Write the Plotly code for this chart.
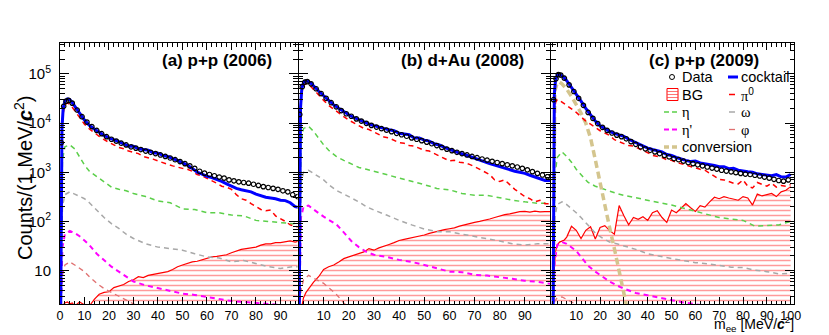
import plotly.graph_objects as go

# ---- x grids (MeV/c^2) ----
M_DATA = [0.5, 1.5, 2.5, 3.5, 5, 7, 9, 11,
          13, 15, 17, 19, 21, 23, 25, 27,
          29, 31, 33, 35, 37, 39, 41, 43,
          45, 47, 49, 51, 53, 55, 57, 59,
          61, 63, 65, 67, 69, 71, 73, 75,
          77, 79, 81, 83, 85, 87, 89, 91,
          93, 95, 97, 99]
M_LINE = [0.3, 0.8, 1.3, 2, 3, 4, 5, 6,
          8, 10, 12, 14, 16, 18, 20, 22,
          24, 26, 28, 30, 32, 34, 36, 38,
          40, 42, 44, 46, 48, 50, 52, 54,
          56, 58, 60, 62, 64, 66, 68, 70,
          72, 74, 76, 78, 80, 82, 84, 86,
          88, 90, 92, 94, 96, 98, 100]
M_COARSE = [0.3, 1, 2, 4, 6, 8, 10,
            12, 15, 18, 21, 24, 27, 30,
            35, 40, 45, 50, 55, 60, 65,
            70, 75, 80, 85, 90, 95, 100]
M_CONV = [0.3, 1, 2, 3, 4, 5, 6, 8, 10, 12, 14, 16, 18, 20, 22, 24, 26, 28, 30, 31, 32]

# ---- (a) p+p (2006) ----
A_DATA = [4000, 22000, 28000, 29000, 25500, 18500, 13500, 10500,
          8500, 7100, 6100, 5300, 4700, 4300, 3900, 3600,
          3300, 3100, 2900, 2700, 2550, 2400, 2250, 2100,
          1950, 1800, 1650, 1500, 1350, 1200, 1050, 960,
          900, 850, 800, 760, 700, 670, 640, 620,
          600, 570, 540, 510, 490, 470, 450, 420,
          400, 350, 320, 300]
A_COCKTAIL = [1.5, 8000, 20000, 28000, 31000, 30000, 26000, 22500,
              16000, 11500, 9000, 7600, 6500, 5600, 5000, 4500,
              4200, 3800, 3400, 3400, 3000, 2900, 2800, 2500,
              2450, 2200, 2100, 1900, 1750, 1550, 1400, 1200,
              1000, 920, 830, 780, 720, 650, 580, 520,
              470, 440, 420, 400, 360, 330, 310, 300,
              290, 270, 265, 240, 200, 190, 190]
A_PI0 = [1.5, 6000, 16000, 23000, 26000, 24000, 21000, 18000,
         13000, 9500, 7600, 6300, 5400, 4600, 4000, 3600,
         3200, 3000, 2700, 2500, 2400, 2100, 2000, 1850,
         1700, 1550, 1450, 1350, 1250, 1200, 1150, 1050,
         900, 850, 750, 680, 600, 520, 500, 450,
         350, 290, 270, 230, 200, 175, 165, 170,
         130, 115, 100, 85, 80, 75, 75]
A_BG = [1.5, 1.8, 2.0, 2.2, 2.3, 2.1, 2.2, 1.9,
        2.3, 2.0, 1.9, 2.6, 3.3, 3.6, 3.7, 4.5,
        4.8, 5.2, 6.0, 6.5, 7.5, 7.2, 8.0, 8.3,
        8.8, 9.0, 9.5, 10.5, 12, 13, 14, 15,
        15.5, 16.5, 18, 19, 19.5, 20, 21, 23,
        25, 27, 28, 29, 30, 33, 35, 35,
        37, 37, 39, 40, 38, 40, 40]
A_ETA = [1.5, 1800, 3300, 3600, 3000, 2000, 1400,
         1050, 820, 640, 500, 450, 420, 370,
         320, 260, 240, 180, 175, 150, 150,
         135, 130, 105, 100, 92, 90, 100]
A_OMEGA = [1.5, 200, 350, 400, 360, 320, 290,
           240, 170, 120, 90, 72, 55, 45,
           35, 30, 28, 26, 22, 19, 18,
           15, 16, 14, 12, 11, 12, 12]
A_ETAP = [1.5, 30, 55, 64, 58, 50, 41,
          33, 22, 16, 12, 9.5, 7.5, 6,
          5, 4.4, 3.9, 3.4, 3.2, 2.9, 2.6,
          2.4, 2.3, 2.2, 2.1, 2.0, 2.0, 2.0]
A_PHI = [1.5, 8, 13, 15, 13, 11, 9.5,
         7.5, 5.5, 4.3, 3.6, 3.1, 2.6, 2.1,
         1.7, 1.5, 1.5, 1.5, 1.5, 1.5, 1.5,
         1.5, 1.5, 1.5, 1.5, 1.5, 1.5, 1.5]

# ---- (b) d+Au (2008) ----
B_DATA = [15000, 55000, 68000, 70000, 63000, 50000, 40000, 32000,
          26000, 21500, 18000, 15500, 13800, 12200, 11000, 9900,
          9000, 8300, 7700, 7200, 6700, 6200, 5800, 5400,
          5000, 4700, 4400, 4100, 3800, 3500, 3200, 2950,
          2750, 2550, 2400, 2250, 2100, 1980, 1860, 1760,
          1670, 1580, 1500, 1420, 1350, 1280, 1200, 1120,
          1030, 950, 880, 810]
B_COCKTAIL = [1.5, 20000, 50000, 68000, 73000, 70000, 64000, 56000,
              45000, 36000, 29000, 23500, 20000, 17000, 14800, 13000,
              11700, 10500, 9600, 8900, 8300, 8000, 7300, 7000,
              6200, 6000, 5800, 5000, 5000, 4500, 4300, 3800,
              3600, 3200, 2900, 2700, 2450, 2300, 2100, 1950,
              1800, 1650, 1500, 1400, 1300, 1180, 1120, 1050,
              1000, 950, 870, 800, 760, 680, 680]
B_PI0 = [1.5, 15000, 40000, 58000, 64000, 61000, 55000, 48000,
         37000, 29000, 23000, 19000, 16000, 13500, 11500, 10000,
         9000, 7800, 7400, 6600, 6000, 5200, 5000, 4500,
         4000, 3900, 3500, 3400, 3100, 2800, 2700, 2400,
         2100, 1900, 1700, 1750, 1600, 1550, 1450, 1300,
         1150, 1000, 900, 700, 650, 700, 560, 450,
         380, 320, 290, 250, 270, 230, 230]
B_BG = [1.5, 1.5, 1.8, 2.8, 3.6, 4.3, 5.0, 5.8,
        7.5, 10.5, 12, 13, 15, 17.5, 19, 20.5,
        22, 24, 28, 26, 29, 32, 34, 37,
        41, 43, 45, 47, 49, 53, 57, 61,
        65, 68, 71, 74, 80, 86, 91, 96,
        100, 105, 112, 120, 130, 137, 142, 150,
        158, 160, 155, 162, 157, 158, 158]
B_ETA = [1.5, 4000, 7800, 8600, 6800, 4800, 3600,
         2800, 2100, 1750, 1450, 1250, 1150, 1050,
         880, 780, 660, 560, 470, 440, 370,
         340, 340, 300, 270, 250, 235, 235]
B_OMEGA = [1.5, 600, 1000, 1100, 950, 800, 700,
           560, 430, 360, 300, 250, 200, 170,
           135, 105, 85, 70, 62, 62, 55,
           50, 45, 40, 35, 33, 35, 35]
B_ETAP = [1.5, 120, 200, 210, 175, 145, 125,
          108, 88, 60, 40, 30, 24, 21,
          19, 16.5, 15, 13, 11, 9.5, 9.3,
          8.2, 7.9, 7.4, 6.8, 6.2, 5.9, 5.4]
B_PHI = [1.5, 4, 6.5, 8, 7, 6.3, 5.5,
         4.5, 3.3, 2.2, 1.6, 1.5, 1.5, 1.5,
         1.5, 1.5, 1.5, 1.5, 1.5, 1.5, 1.5,
         1.5, 1.5, 1.5, 1.5, 1.5, 1.5, 1.5]

# ---- (c) p+p (2009) ----
C_DATA = [30000, 80000, 97000, 95000, 82000, 60000, 44000, 32000,
          23000, 16500, 12500, 9800, 8200, 7100, 6300, 5700,
          5300, 4800, 4200, 3700, 3300, 3000, 2800, 2600,
          2400, 2200, 2050, 1900, 1800, 1680, 1580, 1500,
          1420, 1350, 1280, 1220, 1160, 1100, 1060, 1020,
          980, 950, 920, 900, 870, 840, 800, 760,
          720, 680, 660, 700]
C_COCKTAIL = [1.5, 40000, 75000, 95000, 100000, 93000, 83000, 73000,
              54000, 39000, 28000, 20000, 14500, 11000, 8800, 7600,
              6800, 6200, 5700, 5400, 4700, 4200, 3800, 3400,
              3100, 2900, 2750, 2600, 2300, 2200, 2000, 1900,
              1750, 1650, 1700, 1550, 1500, 1420, 1380, 1300,
              1300, 1180, 1200, 1100, 1050, 1020, 1000, 930,
              900, 880, 850, 900, 810, 800, 900]
C_PI0 = [1.5, 15000, 26000, 30000, 29000, 27000, 25000, 23000,
         19500, 16500, 13500, 11000, 9500, 8000, 7000, 6300,
         5600, 4600, 4200, 3800, 3500, 3400, 3100, 2800,
         2500, 2200, 2100, 2000, 1800, 1750, 1600, 1500,
         1400, 1300, 1200, 1150, 1100, 950, 850, 720,
         700, 650, 600, 580, 700, 520, 480, 620,
         560, 520, 600, 500, 540, 520, 560]
C_BG = [1.5, 12, 25, 33, 38, 40, 42, 48,
        80, 66, 45, 66, 78, 44, 75, 82,
        65, 55, 210, 130, 85, 120, 110, 125,
        105, 150, 165, 120, 95, 170, 150, 185,
        230, 190, 160, 210, 195, 250, 310, 290,
        320, 300, 280, 270, 320, 300, 215, 360,
        330, 350, 370, 320, 400, 430, 510]
C_ETA = [1.5, 800, 2000, 2600, 2100, 1600, 1150,
         900, 620, 520, 460, 410, 370, 340,
         300, 270, 240, 215, 185, 160, 135,
         120, 112, 105, 80, 82, 85, 100]
C_OMEGA = [1.5, 120, 220, 250, 220, 185, 150,
           120, 82, 58, 46, 38, 35, 32,
           27, 22, 19.5, 17.5, 16, 14.5, 13.8,
           12.5, 11.7, 11.5, 10.2, 9.5, 8.6, 8.8]
C_ETAP = [1.5, 15, 33, 38, 35, 30, 25,
          19, 12.5, 9.5, 7.5, 6, 5, 4.3,
          3.5, 3.1, 2.8, 2.5, 2.25, 2.05, 1.9,
          1.8, 1.7, 1.7, 1.7, 1.7, 1.7, 1.7]
C_PHI = [1.5, 2.4, 2.8, 2.9, 2.6, 2.3, 2.0,
         1.8, 1.6, 1.5, 1.5, 1.5, 1.5, 1.5,
         1.5, 1.5, 1.5, 1.5, 1.5, 1.5, 1.5,
         1.5, 1.5, 1.5, 1.5, 1.5, 1.5, 1.5]
C_CONV = [1.5, 45000, 65000, 68000, 63000, 56000, 49000, 35000, 24000, 16000,
          10000, 5000, 1800, 600, 200, 75, 28, 10, 3.5, 2.0, 1.2]

PANEL_TITLES = ["(a) p+p (2006)", "(b) d+Au (2008)", "(c) p+p (2009)"]

FONT = "Liberation Sans, Arial, Helvetica, sans-serif"
SERIF = "Liberation Serif, Times New Roman, serif"

# the page body adds an 8px offset, so the figure is 8px smaller and the
# margins are set so the plot area lands at x 60..794, y 43..304 of the page
OFF = 8
W, H = 829 - OFF, 335 - OFF
PX0, PX1, PY0, PY1 = 60, 794, 43, 304
ML, MR = PX0 - OFF, W - (PX1 - OFF)
MT, MB = PY0 - OFF, H - (PY1 - OFF)
PW = PX1 - PX0
PH = PY1 - PY0


def px(x):
    return (x - PX0) / PW


def py(y):
    return (PY1 - y) / PH


DASH = "5px,4px"
STYLE = {
    "bg": dict(color="#ff0000", width=1.2),
    "phi": dict(color="#e07070", width=1.3, dash=DASH),
    "etap": dict(color="#ff00ff", width=2, dash=DASH),
    "omega": dict(color="#a8a8a8", width=1.5, dash=DASH),
    "eta": dict(color="#5ccf4a", width=1.5, dash=DASH),
    "pi0": dict(color="#ff0000", width=1.5, dash=DASH),
    "conv": dict(color="#d4c58e", width=3.5, dash="7px,4px"),
    "cocktail": dict(color="#0000ff", width=3),
}

panels = [
    dict(data=A_DATA, cocktail=A_COCKTAIL, pi0=A_PI0, bg=A_BG, eta=A_ETA,
         omega=A_OMEGA, etap=A_ETAP, phi=A_PHI, conv=None),
    dict(data=B_DATA, cocktail=B_COCKTAIL, pi0=B_PI0, bg=B_BG, eta=B_ETA,
         omega=B_OMEGA, etap=B_ETAP, phi=B_PHI, conv=None),
    dict(data=C_DATA, cocktail=C_COCKTAIL, pi0=C_PI0, bg=C_BG, eta=C_ETA,
         omega=C_OMEGA, etap=C_ETAP, phi=C_PHI, conv=C_CONV),
]

fig = go.Figure()

for i, p in enumerate(panels):
    xa = "x" if i == 0 else f"x{i + 1}"
    ya = "y" if i == 0 else f"y{i + 1}"
    # combinatorial background with horizontal hatching
    fig.add_trace(go.Scatter(x=M_LINE, y=p["bg"], mode="lines", line=STYLE["bg"],
                             fill="tozeroy", fillcolor="rgba(0,0,0,0)",
                             fillpattern=dict(shape="-", fgcolor="rgba(255,30,30,0.9)",
                                              bgcolor="rgba(0,0,0,0)", size=5, solidity=0.3),
                             xaxis=xa, yaxis=ya, showlegend=False))
    for key in ["phi", "etap", "omega", "eta"]:
        fig.add_trace(go.Scatter(x=M_COARSE, y=p[key], mode="lines", line=STYLE[key],
                                 xaxis=xa, yaxis=ya, showlegend=False))
    if p["conv"] is not None:
        fig.add_trace(go.Scatter(x=M_CONV, y=p["conv"], mode="lines", line=STYLE["conv"],
                                 xaxis=xa, yaxis=ya, showlegend=False))
    fig.add_trace(go.Scatter(x=M_LINE, y=p["pi0"], mode="lines", line=STYLE["pi0"],
                             xaxis=xa, yaxis=ya, showlegend=False))
    fig.add_trace(go.Scatter(x=M_LINE, y=p["cocktail"], mode="lines", line=STYLE["cocktail"],
                             xaxis=xa, yaxis=ya, showlegend=False))
    fig.add_trace(go.Scatter(x=M_DATA, y=p["data"], mode="markers",
                             marker=dict(symbol="circle-open", size=4.5, color="black",
                                         line=dict(width=1.2)),
                             xaxis=xa, yaxis=ya, showlegend=False))

# axes
domains = [[0, px(297.6)], [px(298.5), px(550)], [px(551), 1]]
xranges = [[0, 97], [0, 100], [-0.6, 101.4]]
xticks = [list(range(0, 100, 10)), list(range(10, 100, 10)), list(range(10, 101, 10))]
YTICKS = [10, 100, 1000, 10000, 100000]
YTEXT = ["10", "10<sup>2</sup>", "10<sup>3</sup>", "10<sup>4</sup>", "10<sup>5</sup>"]
YMINOR = [m * 10 ** k for k in range(0, 6) for m in range(2, 10)]

layout = dict(
    width=W, height=H, margin=dict(l=ML, r=MR, t=MT, b=MB),
    paper_bgcolor="white", plot_bgcolor="white",
    font=dict(family=FONT, color="black"),
    showlegend=False,
)
for i in range(3):
    xk = "xaxis" if i == 0 else f"xaxis{i + 1}"
    yk = "yaxis" if i == 0 else f"yaxis{i + 1}"
    ya = "y" if i == 0 else f"y{i + 1}"
    layout[xk] = dict(
        domain=domains[i], range=xranges[i], anchor=ya,
        showline=True, linecolor="black", linewidth=1, mirror="ticks",
        ticks="inside", ticklen=7, tickcolor="black", tickwidth=1,
        tickmode="array", tickvals=xticks[i], ticktext=[str(v) for v in xticks[i]],
        tickfont=dict(size=12.5), ticklabelstandoff=0, showgrid=False, zeroline=False,
        minor=dict(ticks="inside", ticklen=3.5, tickcolor="black", tickmode="linear",
                   tick0=0, dtick=2, showgrid=False),
    )
    layout[yk] = dict(
        domain=[0, 1], type="log", range=[0.32, 5.63],
        anchor="x" if i == 0 else f"x{i + 1}",
        showline=True, linecolor="black", linewidth=1, mirror="ticks",
        ticks="inside", ticklen=9, tickcolor="black", tickwidth=1,
        tickmode="array", tickvals=YTICKS, ticktext=YTEXT,
        showticklabels=(i == 0), tickfont=dict(size=15),
        ticklabelstandoff=5, showgrid=False, zeroline=False,
        minor=dict(ticks="inside", ticklen=4.5, tickcolor="black", tickmode="array",
                   tickvals=YMINOR, showgrid=False),
    )
fig.update_layout(**layout)

ann = []
# panel titles
for title, xr in zip(PANEL_TITLES, [274, 526, 761]):
    ann.append(dict(x=px(xr), y=py(60), xref="paper", yref="paper", xanchor="right",
                    yanchor="middle", text=f"<b>{title}</b>", showarrow=False,
                    font=dict(size=17)))
# axis titles
ann.append(dict(x=px(24), y=py(178), xref="paper", yref="paper", textangle=-90,
                text="Counts/(1 MeV/<b><i>c</i></b><sup>2</sup>)", showarrow=False,
                font=dict(size=20), xanchor="center", yanchor="middle"))
ann.append(dict(x=px(795), y=py(334.5), xref="paper", yref="paper", xanchor="right",
                yanchor="bottom",
                text="m<sub>ee</sub> [MeV/<b><i>c</i></b><sup>2</sup>]", showarrow=False,
                font=dict(size=14), borderpad=0))

# legend (panel c), two columns
ROWS = [77, 94.5, 112, 129.5, 147]
col1 = ["Data", "BG",
        f"<span style='font-family:{SERIF}'>η</span>",
        f"<span style='font-family:{SERIF}'>η'</span>",
        "conversion"]
col2 = ["cocktail",
        f"<span style='font-family:{SERIF}'>π</span><sup>0</sup>",
        f"<span style='font-family:{SERIF}'>ω</span>",
        f"<span style='font-family:{SERIF}'>φ</span>"]
for txt, yy in zip(col1, ROWS):
    ann.append(dict(x=px(680), y=py(yy), xref="paper", yref="paper", xanchor="left",
                    yanchor="middle", text=txt, showarrow=False, font=dict(size=14.5)))
for txt, yy in zip(col2, ROWS):
    ann.append(dict(x=px(739), y=py(yy), xref="paper", yref="paper", xanchor="left",
                    yanchor="middle", text=txt, showarrow=False, font=dict(size=14.5)))

shapes = []
# Data key
shapes.append(dict(type="circle", xref="paper", yref="paper", x0=px(669.5), x1=px(674.5),
                   y0=py(74.5), y1=py(79.5), line=dict(color="black", width=1)))
# BG key
shapes.append(dict(type="rect", xref="paper", yref="paper", x0=px(667), x1=px(678),
                   y0=py(100.5), y1=py(88.5), line=dict(color="#ff0000", width=1)))
for yy in [91.5, 94.5, 97.5]:
    shapes.append(dict(type="line", xref="paper", yref="paper", x0=px(667), x1=px(678),
                       y0=py(yy), y1=py(yy), line=dict(color="rgba(255,60,60,0.7)", width=1)))
for key, yy in [("eta", ROWS[2]), ("etap", ROWS[3]), ("conv", ROWS[4])]:
    st = STYLE[key]
    shapes.append(dict(type="line", xref="paper", yref="paper", x0=px(664), x1=px(678),
                       y0=py(yy), y1=py(yy),
                       line=dict(color=st["color"], width=st["width"], dash="5px,3px")))
shapes.append(dict(type="line", xref="paper", yref="paper", x0=px(728), x1=px(738),
                   y0=py(ROWS[0]), y1=py(ROWS[0]), line=dict(color="#0000ff", width=3)))
for key, yy in [("pi0", ROWS[1]), ("omega", ROWS[2]), ("phi", ROWS[3])]:
    st = STYLE[key]
    shapes.append(dict(type="line", xref="paper", yref="paper", x0=px(729), x1=px(735),
                       y0=py(yy), y1=py(yy), line=dict(color=st["color"], width=st["width"])))

fig.update_layout(annotations=ann, shapes=shapes)
fig.write_html("out.html")
